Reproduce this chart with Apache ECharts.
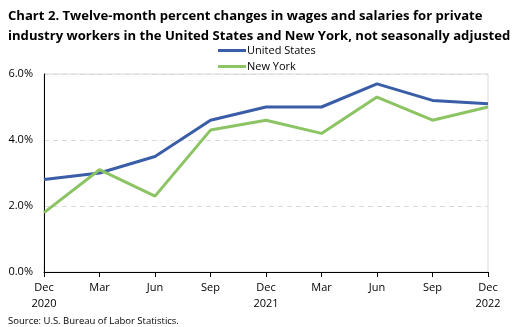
<!DOCTYPE html>
<html><head><meta charset="utf-8">
<script src="https://cdn.jsdelivr.net/npm/echarts@6/dist/echarts.min.js"></script>
<style>html,body{margin:0;padding:0;background:#fff}#c{width:521px;height:327px}</style>
</head><body><div id="c"></div>
<script>
const categories = ['Dec\n2020','Mar','Jun','Sep','Dec\n2021','Mar','Jun','Sep','Dec\n2022'];
const unitedStates = [2.8, 3.0, 3.5, 4.6, 5.0, 5.0, 5.7, 5.2, 5.1];
const newYork = [1.8, 3.1, 2.3, 4.3, 4.6, 4.2, 5.3, 4.6, 5.0];
const yTicks = {min: 0, max: 6, interval: 2};
const F = '"Open Sans", sans-serif';
const chart = echarts.init(document.getElementById('c'));
chart.setOption({
  animation: false,
  title: [{
    text: 'Chart 2. Twelve-month percent changes in wages and salaries for private\nindustry workers in the United States and New York, not seasonally adjusted',
    left: 3, top: 1,
    textStyle: {fontFamily: F, fontWeight: 'bold', fontSize: 13.1, lineHeight: 20, color: '#000'}
  }, {
    text: 'Source: U.S. Bureau of Labor Statistics.',
    left: 3, top: 311,
    textStyle: {fontFamily: F, fontWeight: 'normal', fontSize: 9.5, color: '#000'}
  }],
  legend: {
    orient: 'vertical', left: 213, top: 40, itemGap: 5, itemWidth: 28, itemHeight: 3,
    icon: 'rect',
    textStyle: {fontFamily: F, fontSize: 11, color: '#000', padding: [0,0,0,-4]},
    data: ['United States', 'New York']
  },
  grid: {left: 44, right: 33, top: 74, bottom: 55, show: true, borderColor: '#d9d9d9', borderWidth: 1},
  xAxis: {
    type: 'category', data: categories, boundaryGap: false,
    axisLine: {lineStyle: {color: '#000', width: 1}},
    axisTick: {show: true, length: 5, lineStyle: {color: '#000'}},
    axisLabel: {fontFamily: F, fontSize: 11, color: '#000', lineHeight: 16, margin: 8, interval: 0}
  },
  yAxis: {
    type: 'value', min: yTicks.min, max: yTicks.max, interval: yTicks.interval,
    axisLine: {show: true, lineStyle: {color: '#000'}},
    axisTick: {show: false},
    axisLabel: {fontFamily: F, fontSize: 11, color: '#000', margin: 11, formatter: v => v.toFixed(1) + '%'},
    splitLine: {show: true, lineStyle: {color: '#d9d9d9', type: [5, 4]}}
  },
  series: [{
    name: 'United States', type: 'line', data: unitedStates, symbol: 'none',
    lineStyle: {color: '#3A5DA8', width: 3}, itemStyle: {color: '#3A5DA8'}
  }, {
    name: 'New York', type: 'line', data: newYork, symbol: 'none',
    lineStyle: {color: '#8CC464', width: 3}, itemStyle: {color: '#8CC464'}
  }]
});
</script></body></html>
